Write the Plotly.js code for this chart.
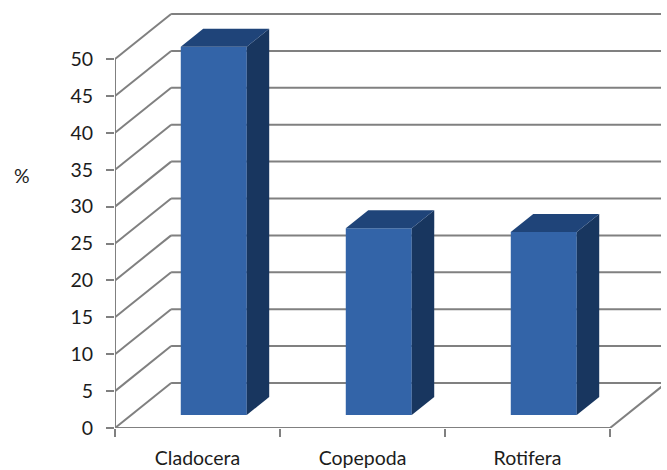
<!DOCTYPE html>
<html>
<head>
<meta charset="utf-8">
<script src="https://cdn.plot.ly/plotly-3.0.1.min.js"></script>
<style>html,body{margin:0;padding:0;background:#fff}#chart{width:667px;height:470px}</style>
</head>
<body>
<div id="chart"></div>
<script>
// Zooplankton composition, percent of total
const categories = ['Cladocera', 'Copepoda', 'Rotifera'];
const percentages = [49.9, 25.3, 24.8];
const gridValues = [0, 5, 10, 15, 20, 25, 30, 35, 40, 45, 50];
const categoryEdges = [-0.5, 0.5, 1.5, 2.5];

// Oblique projection: how far the back wall sits from the front plane, in axis units
const depthX = 0.34;
const depthY = 6.1;
const barFront = 0.29;   // fraction of depth where a column's front face sits
const barBack = 0.69;    // fraction of depth where its back face sits
const barWidth = 0.4;

const frontColor = '#3364A8';
const topColor = '#1F4479';
const sideColor = '#18365F';
const gridColor = '#808080';

const xPos = categories.map((_, i) => i);

function projected(x, y, depth) {
  return [x + depth * depthX, y + depth * depthY];
}

function face(corners, color) {
  return {
    type: 'scatter', mode: 'lines', fill: 'toself', fillcolor: color,
    x: corners.map(c => c[0]), y: corners.map(c => c[1]),
    line: {width: 0, color: color}, hoverinfo: 'skip', showlegend: false
  };
}

const traces = [];

// Front faces of the columns
traces.push({
  type: 'bar',
  x: xPos.map(x => x + barFront * depthX),
  y: percentages,
  base: percentages.map(() => barFront * depthY),
  width: barWidth,
  marker: {color: frontColor, line: {width: 0}},
  hoverinfo: 'skip', showlegend: false
});

// Right-hand and top faces of the columns
percentages.forEach((v, i) => {
  const l = xPos[i] - barWidth / 2, r = xPos[i] + barWidth / 2;
  traces.push(face([
    projected(r, 0, barFront), projected(r, 0, barBack),
    projected(r, v, barBack), projected(r, v, barFront), projected(r, 0, barFront)
  ], sideColor));
  traces.push(face([
    projected(l, v, barFront), projected(l, v, barBack),
    projected(r, v, barBack), projected(r, v, barFront), projected(l, v, barFront)
  ], topColor));
});

// Front axis lines, allowed to run over the plot edge
const first = categoryEdges[0], last = categoryEdges[categoryEdges.length - 1];
const axisLine = {color: gridColor, width: 2};
traces.push({type: 'scatter', mode: 'lines', x: [first, first], y: [0, 50], line: axisLine,
  cliponaxis: false, hoverinfo: 'skip', showlegend: false});
traces.push({type: 'scatter', mode: 'lines', x: [first, last], y: [0, 0], line: axisLine,
  cliponaxis: false, hoverinfo: 'skip', showlegend: false});

// Wall gridlines and side-wall diagonals sit behind the columns
const gridLine = {color: gridColor, width: 2};
const shapes = [];
gridValues.forEach(v => {
  const back = projected(first, v, 1), end = projected(last, v, 1);
  shapes.push({type: 'line', layer: 'below', xref: 'x', yref: 'y',
    x0: first, y0: v, x1: back[0], y1: back[1], line: gridLine});
  shapes.push({type: 'line', layer: 'below', xref: 'x', yref: 'y',
    x0: back[0], y0: back[1], x1: end[0], y1: end[1], line: gridLine});
});
const floorEnd = projected(last, 0, 1);
shapes.push({type: 'line', layer: 'below', xref: 'x', yref: 'y',
  x0: last, y0: 0, x1: floorEnd[0], y1: floorEnd[1], line: gridLine});

const font = {family: 'Lato, "Open Sans", sans-serif', size: 19.5, color: '#1c1c1c'};

const layout = {
  width: 667, height: 470,
  margin: {l: 115, r: 6, t: 0, b: 42},
  paper_bgcolor: '#fff', plot_bgcolor: '#fff',
  barmode: 'overlay',
  showlegend: false,
  xaxis: {
    range: [-0.5, 2.809],
    tickmode: 'array', tickvals: xPos, ticktext: categories,
    ticks: '', showgrid: false, zeroline: false, showline: false,
    tickfont: font, ticklabelstandoff: 16,
    minor: {tickmode: 'array', tickvals: categoryEdges, ticks: 'outside', ticklen: 8,
      tickwidth: 2, tickcolor: gridColor, showgrid: false}
  },
  yaxis: {
    range: [0, 58],
    tickmode: 'array', tickvals: gridValues, ticktext: gridValues.map(String),
    ticks: 'outside', ticklen: 8, tickwidth: 2, tickcolor: gridColor,
    showgrid: false, zeroline: false, showline: false,
    tickfont: font, ticklabelstandoff: 9
  },
  shapes: shapes,
  annotations: [{
    text: '%', xref: 'paper', yref: 'paper', x: (22 - 115) / 546, y: (428 - 175) / 428,
    xanchor: 'center', yanchor: 'middle', showarrow: false, font: font
  }]
};

Plotly.newPlot('chart', traces, layout, {displayModeBar: false, staticPlot: true});
</script>
</body>
</html>
